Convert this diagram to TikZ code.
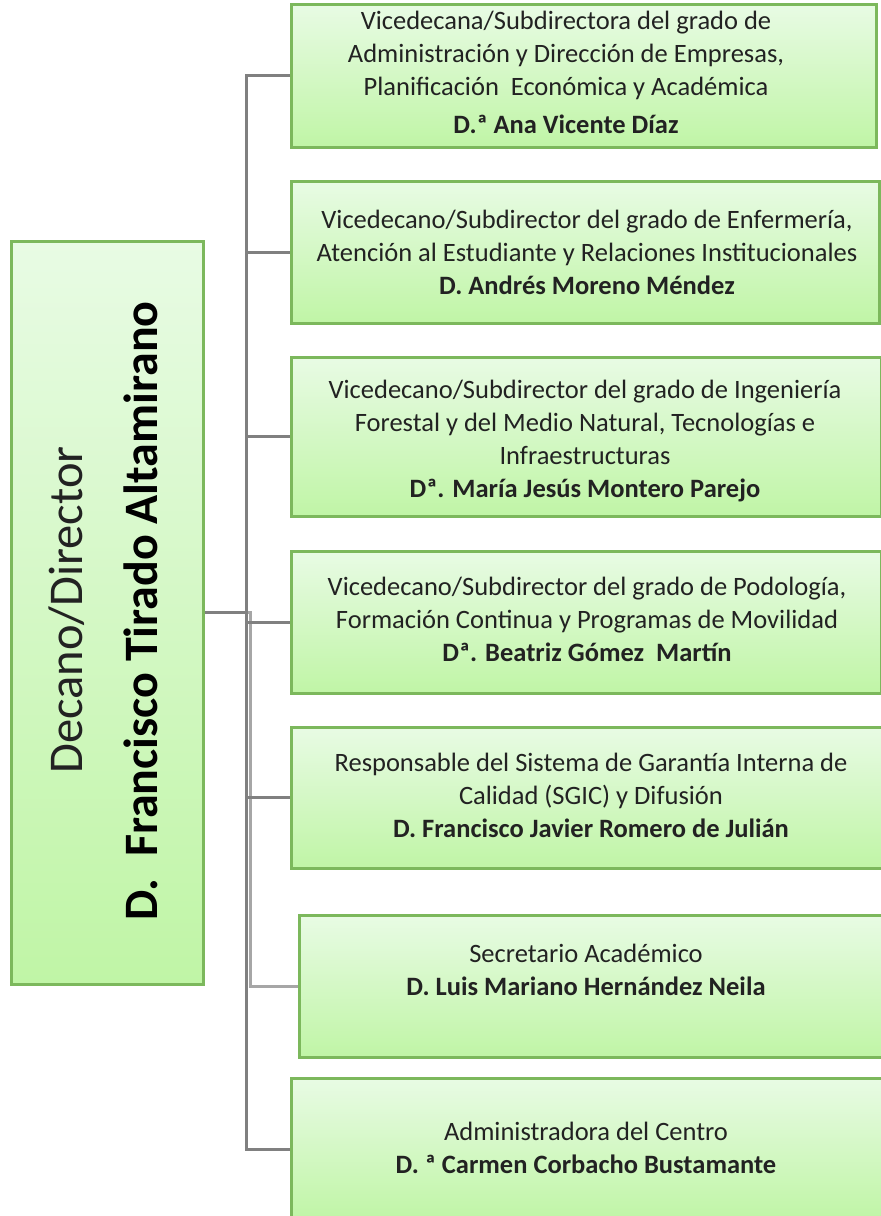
\documentclass[tikz,border=0pt]{standalone}
\usepackage{fontspec}
\setmainfont{Carlito}
\usetikzlibrary{shadows}
\definecolor{boxtop}{HTML}{E8FBE4}
\definecolor{boxbot}{HTML}{C0F5A6}
\definecolor{boxline}{HTML}{7CB85C}
\definecolor{conngray}{HTML}{808080}
\definecolor{connlight}{HTML}{A6A6A6}
\definecolor{txt}{HTML}{222222}
\tikzset{
  box/.style={draw=boxline, line width=2.5pt, top color=boxtop, bottom color=boxbot,
    anchor=north west, inner sep=0pt,
    drop shadow={shadow xshift=2pt, shadow yshift=-2pt, fill=black, opacity=0.25}},
  boxtext/.style={align=center, text=txt, font=\fontsize{26.5}{33}\selectfont, inner sep=0pt},
  conn/.style={draw=conngray, line width=3pt},
  connl/.style={draw=connlight, line width=3pt},
}
\begin{document}
\begin{tikzpicture}[x=1pt,y=-1pt]
\useasboundingbox (0,0) rectangle (881,1216);
% dean box
\node[box, minimum width=192pt, minimum height=743pt] (d) at (10,240) {};
\node[rotate=90, anchor=base, font=\fontsize{48.5}{54}\selectfont, text=txt, inner sep=0pt] (dt1) at (82,610) {Decano/Director};
\node[rotate=90, anchor=base, font=\fontsize{48}{54}\selectfont\bfseries, inner sep=0pt] (dt2) at (157,611) {D.\ \ Francisco Tirado Altamirano};
% right boxes
\node[box, minimum width=585pt, minimum height=143pt] (b1) at (290,3) {};
\node[box, minimum width=588pt, minimum height=142pt] (b2) at (290,180) {};
\node[box, minimum width=590pt, minimum height=159pt] (b3) at (290,356) {};
\node[box, minimum width=590pt, minimum height=142pt] (b4) at (290,550) {};
\node[box, minimum width=596pt, minimum height=141pt] (b5) at (290,726) {};
\node[box, minimum width=590pt, minimum height=142pt] (b6) at (298,914) {};
\node[box, minimum width=596pt, minimum height=142pt] (b7) at (290,1077) {};
% texts
\node[boxtext] (t1) at (566,72) {Vicedecana/Subdirectora del grado de\\Administración y Dirección de Empresas,\\Planificación\ \ Económica y Académica\\[5pt]\textbf{D.ª Ana Vicente Díaz}};
\node[boxtext] (t2) at (587,252) {Vicedecano/Subdirector del grado de Enfermería,\\Atención al Estudiante y Relaciones Institucionales\\\textbf{D. Andrés Moreno Méndez}};
\node[boxtext] (t3) at (585,441) {Vicedecano/Subdirector del grado de Ingeniería\\Forestal y del Medio Natural, Tecnologías e\\Infraestructuras\\\textbf{Dª. María Jesús Montero Parejo}};
\node[boxtext] (t4) at (587,619) {Vicedecano/Subdirector del grado de Podología,\\Formación Continua y Programas de Movilidad\\\textbf{Dª. Beatriz Gómez\ \ Martín}};
\node[boxtext] (t5) at (591,795) {Responsable del Sistema de Garantía Interna de\\Calidad (SGIC) y Difusión\\\textbf{D. Francisco Javier Romero de Julián}};
\node[boxtext] (t6) at (586,970) {Secretario Académico\\\textbf{D. Luis Mariano Hernández Neila}};
\node[boxtext] (t7) at (586,1148) {Administradora del Centro\\\textbf{D. ª Carmen Corbacho Bustamante}};
% connectors
\coordinate (spine) at (246,0);
\coordinate (spine2) at (250,0);
\draw[connl] (d.east) -- (d.east -| spine2) -- (spine2 |- b6.west) -- (b6.west);
\draw[connl] (spine2 |- b4.west) -- (b4.west);
\draw[conn] (b1.west) -- (b1.west -| spine) -- (spine |- b7.west) -- (b7.west);
\draw[conn] (spine |- b2.west) -- (b2.west);
\draw[conn] (spine |- b3.west) -- (b3.west);
\draw[conn] (spine |- b4.west) -- (b4.west);
\draw[conn] (spine |- b5.west) -- (b5.west);
\draw[conn] (d.east) -- (d.east -| spine);
\end{tikzpicture}
\end{document}
